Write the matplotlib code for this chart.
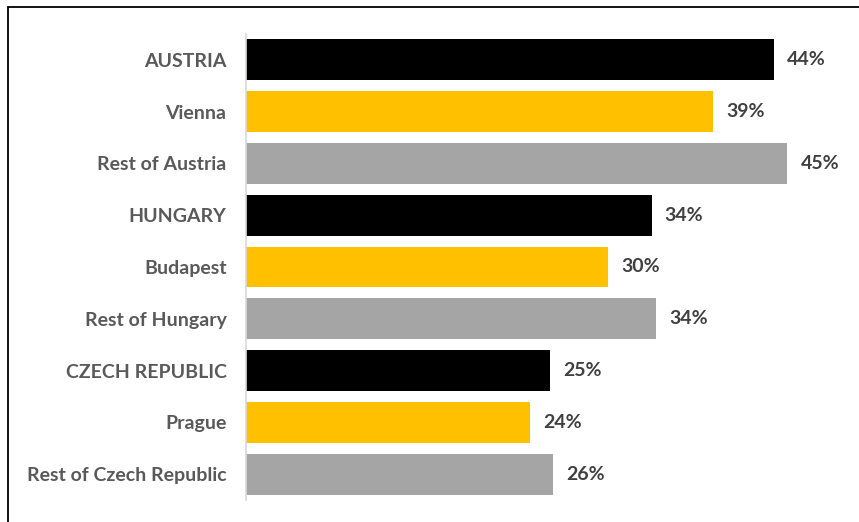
import matplotlib
matplotlib.use("Agg")
import matplotlib.pyplot as plt
from matplotlib.patches import Rectangle

categories = ["AUSTRIA", "Vienna", "Rest of Austria",
              "HUNGARY", "Budapest", "Rest of Hungary",
              "CZECH REPUBLIC", "Prague", "Rest of Czech Republic"]
values = [44.0, 38.9, 45.1, 33.8, 30.2, 34.2, 25.3, 23.7, 25.6]
value_labels = ["44%", "39%", "45%", "34%", "30%", "34%", "25%", "24%", "26%"]
colors = ["#000000", "#FFC000", "#A5A5A5"] * 3

plt.rcParams['font.family'] = ['Lato', 'DejaVu Sans']

fig = plt.figure(figsize=(8.59, 5.22), dpi=100)
ax = fig.add_axes([246/859, 1 - 500/522, 600/859, 466/522])

y = list(range(len(categories)))
ax.barh(y, values, height=0.79, color=colors)
ax.set_ylim(len(categories) - 0.5, -0.5)
ax.set_xlim(0, 50)

for yi, v, lab in zip(y, values, value_labels):
    ax.text(v + 1.1, yi, lab, va='center', ha='left', fontsize=14,
            fontweight='bold', color='#404040')

ax.set_yticks(y)
ax.set_yticklabels(categories, fontsize=14, fontweight='bold', color='#595959')
ax.tick_params(axis='y', length=0, pad=14)
ax.set_xticks([])
for s in ['top', 'right', 'bottom']:
    ax.spines[s].set_visible(False)
ax.spines['left'].set_color('#D9D9D9')
ax.spines['left'].set_linewidth(1.2)

fig.patches.append(Rectangle((8/859, -0.05), 1.2, 1 - 7/522 + 0.05,
                             transform=fig.transFigure, fill=False,
                             edgecolor='#000000', linewidth=1.3))

fig.savefig("out.png", dpi=100)
